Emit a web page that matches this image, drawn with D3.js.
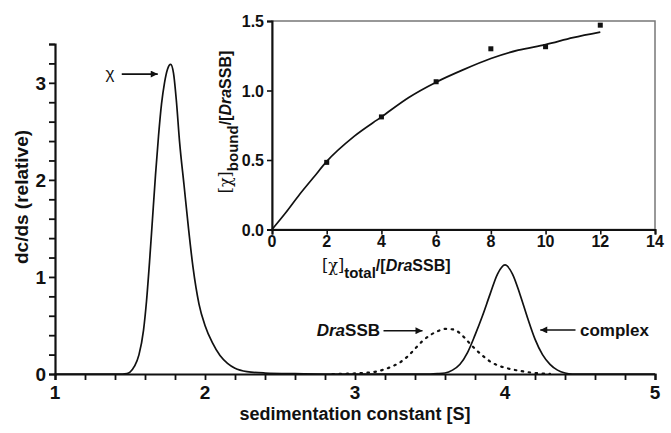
<!DOCTYPE html>
<html><head><meta charset="utf-8">
<script src="https://cdn.jsdelivr.net/npm/d3@7"></script>
<style>body{margin:0;background:#fff}svg{display:block}text{font-family:"Liberation Sans",Arial,sans-serif}</style>
</head><body><svg id="c" width="671" height="433"></svg>
<script>
// ---- data ----
const mainXTicks = [1, 2, 3, 4, 5];
const mainYTicks = [0, 1, 2, 3];
// solid c(s) distribution: chi peak + complex peak
const solidS = [1.0,1.45,1.48,1.50,1.53,1.56,1.59,1.61,1.63,1.65,1.67,1.69,1.71,1.73,1.75,1.771,1.79,1.81,1.83,1.86,1.89,1.92,1.96,2.0,2.05,2.1,2.15,2.2,2.28,2.4,2.6,2.8,3.5,3.55,3.6,3.65,3.7,3.75,3.8,3.85,3.9,3.95,4.0,4.05,4.1,4.15,4.2,4.25,4.3,4.35,4.4,4.45,5.0];
const solidC = [0,0,0.005,0.02,0.08,0.2,0.45,0.75,1.15,1.6,2.05,2.45,2.78,3.0,3.14,3.19,3.1,2.8,2.4,1.95,1.5,1.1,0.72,0.5,0.32,0.19,0.11,0.06,0.025,0.01,0.003,0,0,0.003,0.01,0.04,0.1,0.22,0.4,0.6,0.82,1.03,1.124,1.03,0.82,0.58,0.36,0.2,0.1,0.04,0.01,0,0];
// DraSSB alone (dotted)
const dashS = [2.85,2.95,3.05,3.15,3.25,3.3,3.35,3.4,3.45,3.5,3.55,3.6,3.65,3.7,3.75,3.8,3.85,3.9,3.95,4.0,4.1,4.2,4.3];
const dashC = [0,0.003,0.01,0.028,0.08,0.12,0.18,0.26,0.34,0.4,0.44,0.465,0.46,0.42,0.34,0.26,0.19,0.13,0.09,0.065,0.032,0.01,0.002];
// inset binding data
const insetXTicks = [0, 2, 4, 6, 8, 10, 12, 14];
const insetYTicks = [0.0, 0.5, 1.0, 1.5];
const ratioTotal = [2, 4, 6, 8, 10, 12];
const ratioBound = [0.483, 0.81, 1.063, 1.30, 1.315, 1.47];
const fitX = [0, 0.5, 1, 1.5, 2, 3, 4, 5, 6, 7, 8, 9, 10, 11, 12];
const fitY = [0, 0.12, 0.25, 0.37, 0.49, 0.67, 0.81, 0.95, 1.06, 1.15, 1.23, 1.29, 1.33, 1.38, 1.42];

const svg = d3.select("#c");
svg.append("rect").attr("width",671).attr("height",433).attr("fill","#fff");

// ---- main chart ----
const x = d3.scaleLinear().domain([1,5]).range([55,655]);
const y = d3.scaleLinear().domain([0,3.4]).range([374,44]);

const line = d3.line().x(d=>x(d[0])).y(d=>y(d[1])).curve(d3.curveMonotoneX);
svg.append("path").datum(dashS.map((s,i)=>[s,dashC[i]]))
  .attr("d",line).attr("fill","none").attr("stroke","#111").attr("stroke-width",2.2)
  .attr("stroke-dasharray","1.5,5.5").attr("stroke-linecap","round");
svg.append("path").datum(solidS.map((s,i)=>[s,solidC[i]]))
  .attr("d",line).attr("fill","none").attr("stroke","#111").attr("stroke-width",1.7);

const xMinor = d3.range(1,5.001,0.2);
const yMinor = d3.range(0,3.401,0.2);
const xAx = svg.append("g").attr("transform","translate(0,374)")
  .call(d3.axisBottom(x).tickValues(xMinor).tickSize(6).tickFormat(""));
const yAx = svg.append("g").attr("transform","translate(55,0)")
  .call(d3.axisLeft(y).tickValues(yMinor).tickSize(6).tickFormat(""));
[xAx,yAx].forEach(g=>{
  g.select(".domain").attr("stroke","#111").attr("stroke-width",2.2);
  g.selectAll(".tick line").attr("stroke","#111").attr("stroke-width",1.8);
});
svg.append("g").selectAll("text").data(mainXTicks).join("text")
  .attr("x",d=>x(d)).attr("y",399).attr("text-anchor","middle")
  .attr("font-size",19).attr("font-weight","bold").attr("fill","#111").text(d=>d);
svg.append("g").selectAll("text").data(mainYTicks).join("text")
  .attr("x",46).attr("y",d=>y(d)+7).attr("text-anchor","end")
  .attr("font-size",19).attr("font-weight","bold").attr("fill","#111").text(d=>d);

svg.append("text").attr("x",355).attr("y",420).attr("text-anchor","middle")
  .attr("font-size",18).attr("font-weight","bold").attr("fill","#111")
  .text("sedimentation constant [S]");
svg.append("text").attr("transform","translate(28,197) rotate(-90)").attr("text-anchor","middle")
  .attr("font-size",19).attr("font-weight","bold").attr("fill","#111")
  .text("dc/ds (relative)");

// ---- annotations ----
const defs = svg.append("defs");
defs.append("marker").attr("id","ah").attr("viewBox","0 0 10 10").attr("refX",10).attr("refY",5)
  .attr("markerWidth",9).attr("markerHeight",7).attr("markerUnits","userSpaceOnUse").attr("orient","auto")
  .append("path").attr("d","M0,0L10,5L0,10Z").attr("fill","#111");
const arrows = [[1.445,3.09,1.685,3.09],[3.19,0.446,3.45,0.446],[4.47,0.454,4.235,0.454]];
svg.append("g").selectAll("line").data(arrows).join("line")
  .attr("x1",d=>x(d[0])).attr("y1",d=>y(d[1])).attr("x2",d=>x(d[2])).attr("y2",d=>y(d[3]))
  .attr("stroke","#111").attr("stroke-width",1.6).attr("marker-end","url(#ah)");
svg.append("text").attr("x",x(1.367)).attr("y",y(3.09)+5).attr("text-anchor","middle")
  .attr("font-size",17).attr("fill","#111").attr("font-family","DejaVu Serif").text("χ");
const t1 = svg.append("text").attr("x",x(3.167)).attr("y",y(0.39)).attr("text-anchor","end")
  .attr("font-size",17).attr("font-weight","bold").attr("fill","#111");
t1.append("tspan").attr("font-style","italic").text("Dra");
t1.append("tspan").text("SSB");
svg.append("text").attr("x",x(4.5)).attr("y",y(0.39)).attr("text-anchor","start")
  .attr("font-size",17).attr("font-weight","bold").attr("fill","#111").text("complex");

// ---- inset ----
const ix = d3.scaleLinear().domain([0,14]).range([272,655]);
const iy = d3.scaleLinear().domain([0,1.5]).range([229.5,21]);
svg.append("rect").attr("x",272).attr("y",21).attr("width",383).attr("height",208.5)
  .attr("fill","none").attr("stroke","#777").attr("stroke-width",1.5);
const iline = d3.line().x(d=>ix(d[0])).y(d=>iy(d[1])).curve(d3.curveMonotoneX);
svg.append("path").datum(fitX.map((v,i)=>[v,fitY[i]])).attr("d",iline)
  .attr("fill","none").attr("stroke","#111").attr("stroke-width",1.7);
svg.append("g").selectAll("rect").data(ratioTotal.map((v,i)=>[v,ratioBound[i]])).join("rect")
  .attr("x",d=>ix(d[0])-2.5).attr("y",d=>iy(d[1])-2.5).attr("width",5).attr("height",5).attr("fill","#111");
const ixAx = svg.append("g").attr("transform","translate(0,229.5)")
  .call(d3.axisBottom(ix).tickValues(insetXTicks).tickSize(5).tickFormat(""));
const iyAx = svg.append("g").attr("transform","translate(272,0)")
  .call(d3.axisLeft(iy).tickValues(insetYTicks).tickSize(5).tickFormat(""));
[ixAx,iyAx].forEach(g=>{
  g.select(".domain").attr("stroke","#111").attr("stroke-width",2);
  g.selectAll(".tick line").attr("stroke","#111").attr("stroke-width",1.6);
});
svg.append("g").selectAll("text").data(insetXTicks).join("text")
  .attr("x",d=>ix(d)).attr("y",247).attr("text-anchor","middle")
  .attr("font-size",16).attr("font-weight","bold").attr("fill","#111").text(d=>d);
svg.append("g").selectAll("text").data(insetYTicks).join("text")
  .attr("x",264).attr("y",d=>iy(d)+6).attr("text-anchor","end")
  .attr("font-size",16).attr("font-weight","bold").attr("fill","#111").text(d=>d.toFixed(1));

const xl = svg.append("text").attr("x",322).attr("y",271).attr("text-anchor","start")
  .attr("font-size",16).attr("font-weight","bold").attr("fill","#111");
xl.append("tspan").attr("font-weight","normal").attr("font-family","DejaVu Serif").text("[χ]");
xl.append("tspan").attr("dy",7).attr("font-size",15).text("total");
xl.append("tspan").attr("dy",-7).text("/[");
xl.append("tspan").attr("font-style","italic").text("Dra");
xl.append("tspan").text("SSB]");

const yl = svg.append("text").attr("transform","translate(231,122) rotate(-90)").attr("text-anchor","middle")
  .attr("font-size",16).attr("font-weight","bold").attr("fill","#111");
yl.append("tspan").attr("font-weight","normal").attr("font-family","DejaVu Serif").text("[χ]");
yl.append("tspan").attr("dy",7).attr("font-size",15).text("bound");
yl.append("tspan").attr("dy",-7).text("/[");
yl.append("tspan").attr("font-style","italic").text("Dra");
yl.append("tspan").text("SSB]");
</script></body></html>
